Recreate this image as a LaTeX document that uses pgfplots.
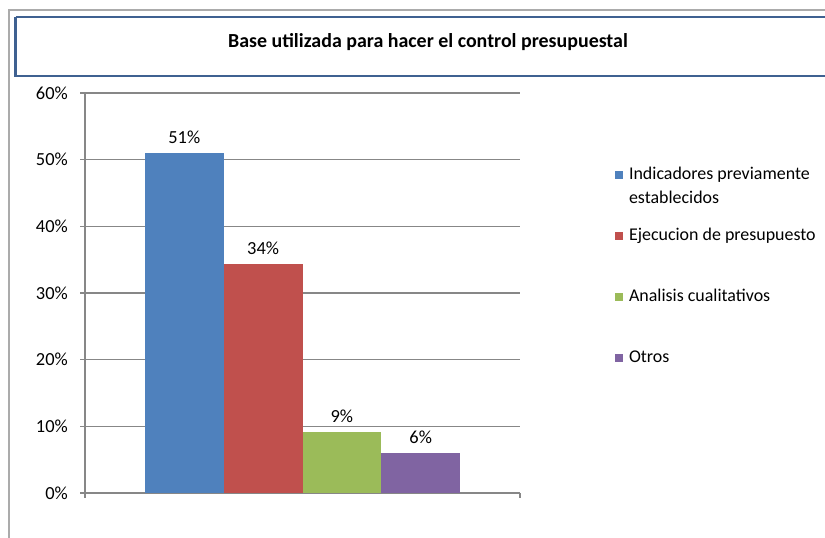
\documentclass[border=0pt]{standalone}
\usepackage{pgfplots}
\pgfplotsset{compat=1.18}
\usepackage{fontspec}
\setmainfont{Carlito}
\definecolor{xblue}{HTML}{4F81BD}
\definecolor{xred}{HTML}{C0504D}
\definecolor{xgreen}{HTML}{9BBB59}
\definecolor{xpurple}{HTML}{8064A2}
\definecolor{tframe}{HTML}{3F6191}
\definecolor{xgrid}{HTML}{878787}
\begin{document}
\begin{tikzpicture}[x=1bp,y=1bp]
\path[use as bounding box] (0,0) rectangle (825,538);
\draw[xgrid!70, line width=1.2bp] (9,0) -- (9,528) -- (830,528);
\draw[tframe, line width=2.6bp] (15.5,521) -- (15.5,462) -- (830,462);
\draw[tframe, line width=2.6bp] (15.5,521) -- (830,521);
\node[font=\fontsize{20}{24}\selectfont\bfseries] at (428,496) {Base utilizada para hacer el control presupuestal};
\begin{axis}[
  at={(85bp,45bp)}, anchor=south west,
  scale only axis, width=435bp, height=400bp,
  xmin=-1.26, xmax=4.26, ymin=0, ymax=60,
  axis lines=left, axis line style={-, xgrid, line width=1.2bp},
  ytick={0,10,...,60},
  yticklabel={\pgfmathprintnumber{\tick}\%},
  xtick={-1.26,4.26}, xticklabels={},
  tick align=outside, major tick length=5bp,
  tick style={xgrid, line width=1.2bp},
  ymajorgrids, grid style={xgrid, line width=1.2bp},
  ticklabel style={font=\fontsize{18.5}{22}\selectfont},
  yticklabel style={inner xsep=0pt, xshift=-12bp},
  /pgf/number format/assume math mode=true,
  ybar, bar width=1,
  nodes near coords={\pgfmathprintnumber[fixed,precision=0]{\pgfplotspointmeta}\%},
  every node near coord/.append style={font=\fontsize{18.5}{22}\selectfont, yshift=6bp, black},
  legend style={draw=none, fill=none, inner sep=0pt, at={(axis description cs:1.218,0.8225)}, anchor=north west,
    font=\fontsize{18}{24}\selectfont, row sep=0pt,
    cells={anchor=base west},
    nodes={inner ysep=2bp, inner xsep=2bp, text height=13bp, text depth=44bp}},
  legend image code/.code={\fill[#1] (0bp,0.5bp) rectangle (8bp,8.5bp);},
]
\addplot[fill=xblue, draw=none, bar shift=0pt] coordinates {(0,51)};
\addlegendentry{\hspace*{4bp}\parbox[t]{195bp}{Indicadores previamente\\establecidos}}
\addplot[fill=xred, draw=none, bar shift=0pt] coordinates {(1,34.3)};
\addlegendentry{\hspace*{4bp}Ejecucion de presupuesto}
\addplot[fill=xgreen, draw=none, bar shift=0pt] coordinates {(2,9.1)};
\addlegendentry{\hspace*{4bp}Analisis cualitativos}
\addplot[fill=xpurple, draw=none, bar shift=0pt] coordinates {(3,6)};
\addlegendentry{\hspace*{4bp}Otros}
\end{axis}
\end{tikzpicture}
\end{document}
